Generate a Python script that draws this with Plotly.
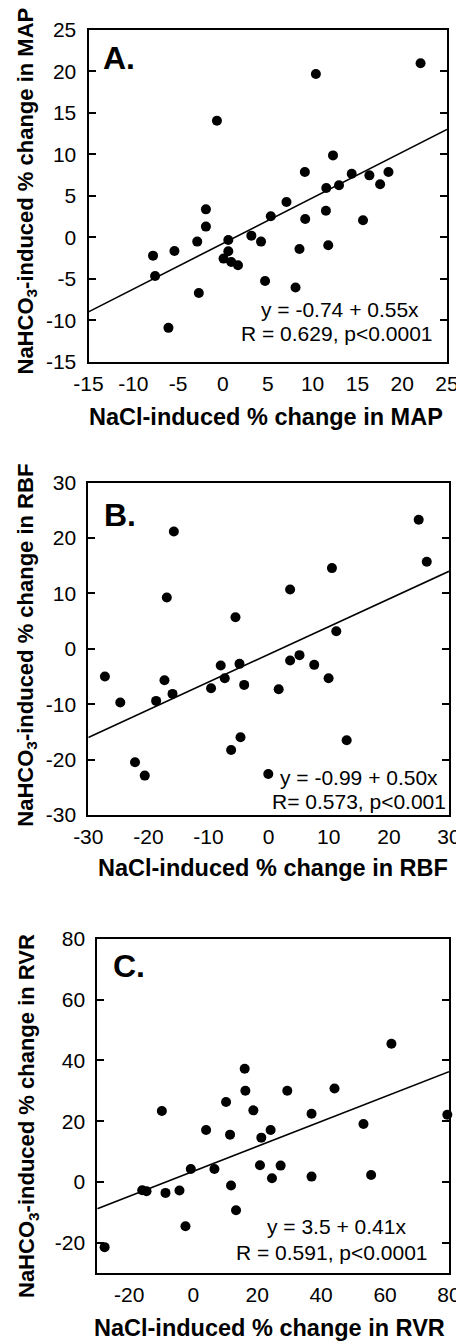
import plotly.graph_objects as go

# ---------------- data ----------------
# Panel A: MAP
map_x = [22.05, 10.37, -0.67, 12.28, 9.14, 14.37, 16.34, 18.47, 11.53, 12.95, 17.54, 7.09,
         -1.90, 5.34, 11.49, 9.18, 15.63, -1.90, 3.17, 0.60, -2.87, 4.25, 0.60, 8.54, 11.75,
         -5.41, -7.80, 0.07, 0.93, 1.68, -7.57, 4.70, -2.69, 8.10, -6.08]
map_y = [21.0, 19.7, 14.06, 9.88, 7.87, 7.67, 7.47, 7.87, 5.94, 6.27, 6.39, 4.26,
         3.37, 2.53, 3.21, 2.21, 2.05, 1.29, 0.20, -0.32, -0.52, -0.52, -1.69, -1.41, -0.96,
         -1.65, -2.21, -2.57, -2.97, -3.37, -4.66, -5.26, -6.71, -6.06, -10.92]
map_fit = (-0.74, 0.55)
map_range_x = [-15, 25]
map_range_y = [-15, 25]
map_ticks_x = [-15, -10, -5, 0, 5, 10, 15, 20, 25]
map_ticks_y = [-15, -10, -5, 0, 5, 10, 15, 20, 25]

# Panel B: RBF
rbf_x = [24.96, 26.30, -15.77, 10.53, -16.94, 3.57, -5.52, 11.25, 5.13, 3.57, 7.58, -4.85,
         -7.97, -7.30, 9.97, -27.24, -17.33, -4.07, -9.58, 1.67, -15.99, -18.72, -24.68,
         -4.68, -6.24, 12.98, -22.23, -20.61, -0.06]
rbf_y = [23.31, 15.72, 21.20, 14.58, 9.28, 10.72, 5.72, 3.19, -1.14, -2.11, -2.89, -2.71,
         -3.01, -5.30, -5.30, -5.00, -5.66, -6.51, -7.11, -7.29, -8.13, -9.40, -9.70,
         -15.96, -18.25, -16.51, -20.48, -22.89, -22.59]
rbf_fit = (-0.99, 0.50)
rbf_range_x = [-30, 30]
rbf_range_y = [-30, 30]
rbf_ticks_x = [-30, -20, -10, 0, 10, 20, 30]
rbf_ticks_y = [-30, -20, -10, 0, 10, 20, 30]

# Panel C: RVR
rvr_x = [-27.71, -2.42, 13.39, -15.95, -14.60, -8.67, -4.30, 11.83, -0.76, 6.63, 20.88,
         27.34, 24.63, 37.01, 55.64, 53.25, 79.47, 61.99, 44.19, 29.42, 37.01, 16.10, 16.31,
         18.81, 10.27, -9.81, 4.03, 11.52, 24.21, 21.30]
rvr_y = [-21.48, -14.58, -9.32, -2.74, -3.07, -3.62, -2.85, -1.21, 4.27, 4.27, 5.48,
         5.37, 1.21, 1.75, 2.30, 19.07, 22.14, 45.48, 30.79, 30.03, 22.47, 37.26, 30.03,
         23.56, 26.30, 23.34, 17.10, 15.56, 17.10, 14.58]
rvr_fit = (3.5, 0.41)
rvr_range_x = [-30, 80]
rvr_range_y = [-30, 80]
rvr_ticks_x = [-20, 0, 20, 40, 60, 80]
rvr_ticks_y = [-20, 0, 20, 40, 60, 80]

panel_letters = ["A.", "B.", "C."]
x_titles = ["NaCl-induced % change in MAP", "NaCl-induced % change in RBF",
            "NaCl-induced % change in RVR"]
y_titles = ["NaHCO<sub>3</sub>-induced % change in MAP",
            "NaHCO<sub>3</sub>-induced % change in RBF",
            "NaHCO<sub>3</sub>-induced % change in RVR"]
eq_lines = [("y = -0.74 + 0.55x", "R = 0.629, p<0.0001"),
            ("y = -0.99 + 0.50x", "R= 0.573, p<0.001"),
            ("y = 3.5 + 0.41x", "R = 0.591, p<0.0001")]

# ---------------- layout helpers ----------------
OFF = 8  # default page margin around the plot div
W, H = 464 - OFF, 1343 - OFF
FONT = "Liberation Sans, Arial, Helvetica, sans-serif"


def px_x(v):
    return (v - OFF) / W


def px_y(v):
    return 1 - (v - OFF) / H


# panel frames in window pixels: (left, right, top, bottom)
frames = [(88.5, 447, 30, 361.7), (88.3, 449, 482.7, 815), (97.3, 449, 939, 1273)]
letter_pos = [(101, 58.5), (102, 515), (111, 966)]
xtitle_pos = [(266, 416.7), (272.5, 868.3), (269, 1328.3)]
ytitle_pos = [(27, 191.5), (26.7, 645), (28, 1116)]
eq_pos = [((340, 309), (337, 333.3)), ((359, 777.3), (358.5, 801.7)),
          ((336, 1226.7), (332, 1252))]

panels = [
    (map_x, map_y, map_fit, map_range_x, map_range_y, map_ticks_x, map_ticks_y),
    (rbf_x, rbf_y, rbf_fit, rbf_range_x, rbf_range_y, rbf_ticks_x, rbf_ticks_y),
    (rvr_x, rvr_y, rvr_fit, rvr_range_x, rvr_range_y, rvr_ticks_x, rvr_ticks_y),
]

fig = go.Figure()
annotations = []
layout = dict(width=W, height=H, margin=dict(l=0, r=0, t=0, b=0, pad=0, autoexpand=False),
              autosize=False,
              paper_bgcolor="white", plot_bgcolor="white", showlegend=False,
              font=dict(family=FONT, color="black", size=19))

for i, (xs, ys, fit, rx, ry, tx, ty) in enumerate(panels):
    n = "" if i == 0 else str(i + 1)
    xa, ya = "x" + n, "y" + n
    l, r, t, b = frames[i]
    fx = [rx[0], rx[1]]
    fy = [fit[0] + fit[1] * v for v in fx]
    fig.add_trace(go.Scatter(x=fx, y=fy, mode="lines", line=dict(color="black", width=1.6),
                             xaxis=xa, yaxis=ya, hoverinfo="skip"))
    fig.add_trace(go.Scatter(x=xs, y=ys, mode="markers",
                             marker=dict(color="black", size=10, line=dict(width=0)),
                             xaxis=xa, yaxis=ya, cliponaxis=False))
    layout["xaxis" + n] = dict(domain=[px_x(l), px_x(r)], range=rx, anchor=ya,
                               tickvals=tx, ticktext=[str(v) for v in tx],
                               ticks="", showline=True, linecolor="black", automargin=False,
                               linewidth=2, mirror=True, showgrid=False, zeroline=False,
                               tickfont=dict(size=21, family=FONT), ticklabelstandoff=2)
    layout["yaxis" + n] = dict(domain=[px_y(b), px_y(t)], range=ry, anchor=xa,
                               tickvals=ty, ticktext=[str(v) for v in ty],
                               ticks="inside", ticklen=7, tickwidth=1.5, automargin=False,
                               tickcolor="black", showline=True, linecolor="black",
                               linewidth=2, mirror="ticks", showgrid=False, zeroline=False,
                               tickfont=dict(size=21, family=FONT), ticklabelstandoff=6)
    lx, ly = letter_pos[i]
    annotations.append(dict(text="<b>%s</b>" % panel_letters[i], x=px_x(lx), y=px_y(ly),
                            xref="paper", yref="paper", xanchor="left", yanchor="middle",
                            showarrow=False, font=dict(size=32, family=FONT)))
    tx_, ty_ = xtitle_pos[i]
    annotations.append(dict(text="<b>%s</b>" % x_titles[i], x=px_x(tx_), y=px_y(ty_),
                            xref="paper", yref="paper", xanchor="center", yanchor="middle",
                            showarrow=False, font=dict(size=23.5, family=FONT)))
    yx_, yy_ = ytitle_pos[i]
    annotations.append(dict(text="<b>%s</b>" % y_titles[i], x=px_x(yx_), y=px_y(yy_),
                            xref="paper", yref="paper", xanchor="center", yanchor="middle",
                            textangle=-90, showarrow=False, font=dict(size=22, family=FONT)))
    for (ex, ey), line in zip(eq_pos[i], eq_lines[i]):
        annotations.append(dict(text=line, x=px_x(ex), y=px_y(ey), xref="paper",
                                yref="paper", xanchor="center", yanchor="middle",
                                showarrow=False, font=dict(size=21, family=FONT)))

layout["annotations"] = annotations
fig.update_layout(**layout)
fig.write_html("out.html")
